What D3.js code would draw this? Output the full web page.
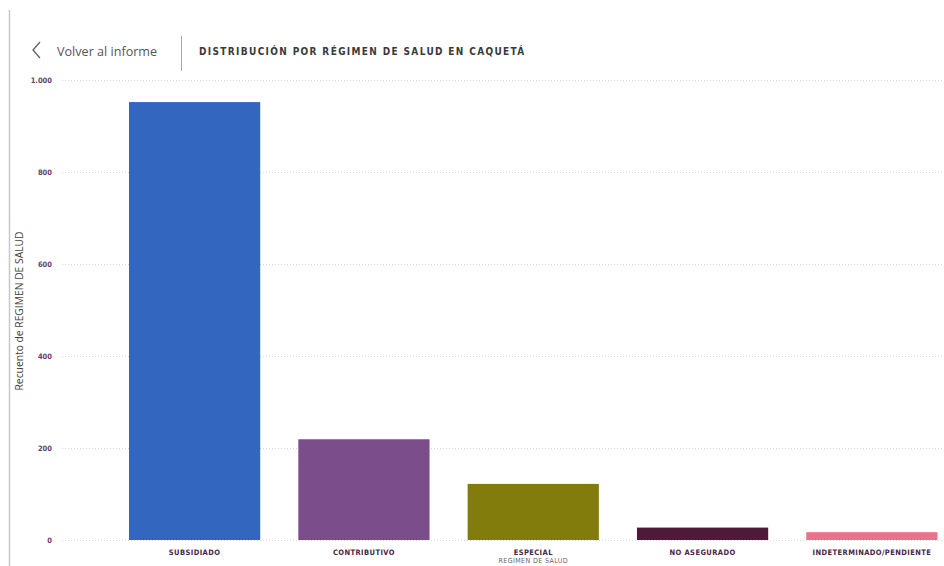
<!DOCTYPE html>
<html>
<head>
<meta charset="utf-8">
<script src="https://cdn.jsdelivr.net/npm/d3@7/dist/d3.min.js"></script>
<style>
  html, body { margin: 0; padding: 0; background: #fff; }
  svg { display: block; }
</style>
</head>
<body>
<svg id="chart" width="944" height="566"></svg>
<script>
// Health regime counts for Caquetá
const categories = ["SUBSIDIADO", "CONTRIBUTIVO", "ESPECIAL", "NO ASEGURADO", "INDETERMINADO/PENDIENTE"];
const counts = [952, 219, 122, 27, 17];
const barColors = ["#3366BE", "#7B4D8B", "#827C0C", "#4F1A3A", "#E8738B"];
const yTicks = [0, 200, 400, 600, 800, 1000];
const yTickLabels = ["0", "200", "400", "600", "800", "1.000"];

const svg = d3.select("#chart");
const W = 944, H = 566;

// Page frame: left rule
svg.append("line")
  .attr("x1", 9.5).attr("x2", 9.5).attr("y1", 10).attr("y2", H)
  .attr("stroke", "#c8c8c8").attr("stroke-width", 1.5);

// Header: back link, separator, title
svg.append("path")
  .attr("d", "M40,42 L33,50 L40,58")
  .attr("fill", "none").attr("stroke", "#666").attr("stroke-width", 1.4);
svg.append("text")
  .attr("x", 57).attr("y", 55.5)
  .attr("font-family", "'Segoe UI', 'Open Sans', sans-serif")
  .attr("font-size", 12.6).attr("fill", "#555")
  .text("Volver al informe");
svg.append("line")
  .attr("x1", 181.5).attr("x2", 181.5).attr("y1", 36).attr("y2", 71)
  .attr("stroke", "#aaa").attr("stroke-width", 1);
svg.append("text")
  .attr("x", 199).attr("y", 55)
  .attr("font-family", "'DejaVu Sans Condensed', 'Open Sans', sans-serif")
  .attr("font-weight", "bold")
  .attr("font-size", 10).attr("fill", "#3a3a3a")
  .attr("letter-spacing", 1.35)
  .text("DISTRIBUCIÓN POR RÉGIMEN DE SALUD EN CAQUETÁ");

// Scales
const y = d3.scaleLinear().domain([0, 1000]).range([540, 80]);
const x = d3.scaleBand().domain(categories)
  .range([129, 937.5]).paddingInner(0.225).paddingOuter(0);

// Gridlines
const grid = svg.append("g");
grid.selectAll("line").data(yTicks).join("line")
  .attr("x1", 62).attr("x2", W)
  .attr("y1", d => Math.round(y(d)) + 0.5).attr("y2", d => Math.round(y(d)) + 0.5)
  .attr("stroke", "#d6d6d6").attr("stroke-width", 1)
  .attr("stroke-dasharray", "1,2");

// Y axis labels
const yAxis = d3.axisLeft(y).tickValues(yTicks)
  .tickFormat((d, i) => yTickLabels[i]).tickSize(0).tickPadding(0);
const yg = svg.append("g").attr("transform", "translate(52,0)").call(yAxis);
yg.select(".domain").remove();
yg.selectAll("text")
  .attr("font-family", "'DejaVu Sans Condensed', 'Open Sans', sans-serif")
  .attr("font-weight", "bold")
  .attr("font-size", 7.5).attr("fill", "#6a3d72")
  .attr("dy", "0.35em");

// Bars
svg.append("g").selectAll("rect").data(categories).join("rect")
  .attr("x", d => x(d))
  .attr("width", x.bandwidth())
  .attr("y", (d, i) => y(counts[i]))
  .attr("height", (d, i) => y(0) - y(counts[i]))
  .attr("fill", (d, i) => barColors[i]);

// X axis labels
const xAxis = d3.axisBottom(x).tickSize(0).tickPadding(10);
const xg = svg.append("g").attr("transform", "translate(0,540)").call(xAxis);
xg.select(".domain").remove();
xg.selectAll("text")
  .attr("font-family", "'DejaVu Sans Condensed', 'Open Sans', sans-serif")
  .attr("font-weight", "bold")
  .attr("font-size", 7.5).attr("fill", "#4a2448")
  .attr("letter-spacing", 0.4);

// Axis titles
svg.append("text")
  .attr("x", x("ESPECIAL") + x.bandwidth() / 2).attr("y", 563)
  .attr("text-anchor", "middle")
  .attr("font-family", "'DejaVu Sans Condensed', 'Open Sans', sans-serif")
  .attr("font-size", 7).attr("fill", "#666")
  .attr("letter-spacing", 0.4)
  .text("REGIMEN DE SALUD");
svg.append("text")
  .attr("transform", "translate(23,311) rotate(-90)")
  .attr("text-anchor", "middle")
  .attr("font-family", "'Segoe UI', 'Open Sans', sans-serif")
  .attr("font-size", 10.3).attr("fill", "#444")
  .text("Recuento de REGIMEN DE SALUD");
</script>
</body>
</html>
